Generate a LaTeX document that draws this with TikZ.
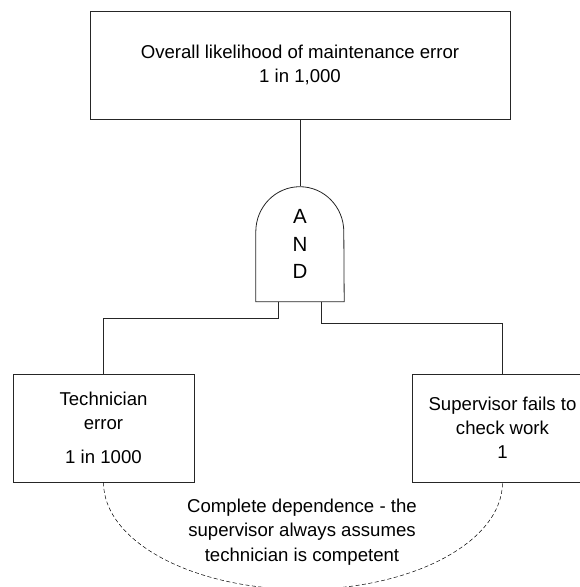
\documentclass[tikz,border=0pt]{standalone}
\usepackage{fontspec}
\setmainfont{Liberation Sans}

\begin{document}
\begin{tikzpicture}[x=1pt,y=-1pt,
  font=\fontsize{18.6}{24}\selectfont,
  event/.style={draw=black!85,line width=0.8pt,align=center,
    minimum width=181pt,minimum height=108pt,inner sep=0pt},
  wire/.style={draw=black!85,line width=0.8pt}]
\clip (0,0) rectangle (580,587);
% top event
\node[event,minimum width=420pt] (top) at (300,65)
  {Overall likelihood of maintenance error\\1 in 1,000};
% AND gate
\node[minimum width=88pt,minimum height=115pt,inner sep=0pt,align=center,
  font=\fontsize{20.5}{27.5}\selectfont] (gate) at (300,244) {A\\N\\D};
\draw[wire] (gate.south west) -- ++(0,-70)
  arc[start angle=180,end angle=270,x radius=44,y radius=45]
  arc[start angle=270,end angle=360,x radius=44,y radius=45]
  -- (gate.south east) -- cycle;
% basic events
\node[event] (tech) at (103.5,428)
  {Technician\\error\\[10pt]1 in 1000};
\node[event] (sup) at (502.5,428)
  {Supervisor fails to\\check work\\1};
% connectors
\draw[wire] (top.south) -- (top.south |- gate.north);
\draw[wire] ([xshift=-22pt]gate.south) -- ++(0,17) -| (tech.north);
\draw[wire] ([xshift=21pt]gate.south) -- ++(0,22) -| (sup.north);
% dependence
\draw[dashed,line width=0.5pt,dash pattern=on 4pt off 2.5pt] (tech.south)
  arc[start angle=180,end angle=0,x radius=199.5,y radius=107];
\node[align=center,font=\fontsize{18.6}{24.5}\selectfont] (dep) at (302,532)
  {Complete dependence - the\\supervisor always assumes\\technician is competent};
\end{tikzpicture}
\end{document}
